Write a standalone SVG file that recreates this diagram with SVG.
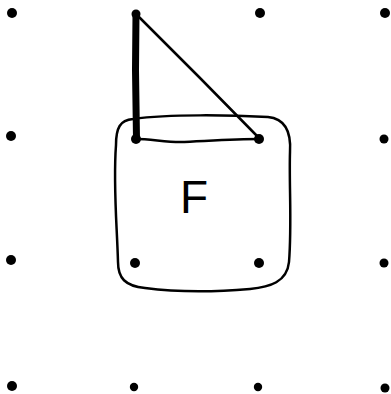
<svg xmlns="http://www.w3.org/2000/svg" width="391" height="394" viewBox="0 0 391 394">
<style>
.dot{fill:#000}
.thin{fill:none;stroke:#000;stroke-width:2.5;stroke-linecap:round;stroke-linejoin:round}
.thick{fill:none;stroke:#000;stroke-width:7;stroke-linecap:round}
.lbl{font-family:"Liberation Sans",Arial,sans-serif;font-size:46px;fill:#000}
</style>
<rect width="391" height="394" fill="#fff"/>
<g id="region-F">
<path class="thin" d="M133,119 C170,114 230,115 268,117 C288,119 291,136 290,152 C289,185 292,225 289,262 C287,282 270,287 250,289 C215,292 175,292 145,288 C125,286 118,278 118,262 C117,225 113,185 116,145 C116,128 120,120 133,119 Z"/>
<text class="lbl" x="180" y="213">F</text>
</g>
<g id="connectors">
<path class="thick" d="M136,14 L135.5,70 L136.5,139"/>
<path class="thin" d="M136,14 L200,78 L260,139"/>
<path class="thin" d="M136,139 C150,139 165,142 180,142 C205,141 235,139 259,139"/>
</g>
<g id="dots">
<circle class="dot" cx="12" cy="13" r="5"/>
<circle class="dot" cx="136" cy="14" r="4.5"/>
<circle class="dot" cx="260" cy="13" r="5"/>
<circle class="dot" cx="385" cy="13" r="5"/>
<circle class="dot" cx="11" cy="136" r="5"/>
<circle class="dot" cx="136" cy="139" r="5"/>
<circle class="dot" cx="259" cy="139" r="5"/>
<circle class="dot" cx="384" cy="139" r="4.5"/>
<circle class="dot" cx="11" cy="260" r="5"/>
<circle class="dot" cx="135" cy="263" r="5"/>
<circle class="dot" cx="259" cy="263" r="5"/>
<circle class="dot" cx="384" cy="263" r="4.5"/>
<circle class="dot" cx="12" cy="386" r="5"/>
<circle class="dot" cx="134" cy="387" r="4.2"/>
<circle class="dot" cx="258" cy="387" r="4.2"/>
<circle class="dot" cx="385" cy="388" r="4.5"/>
</g>
</svg>
